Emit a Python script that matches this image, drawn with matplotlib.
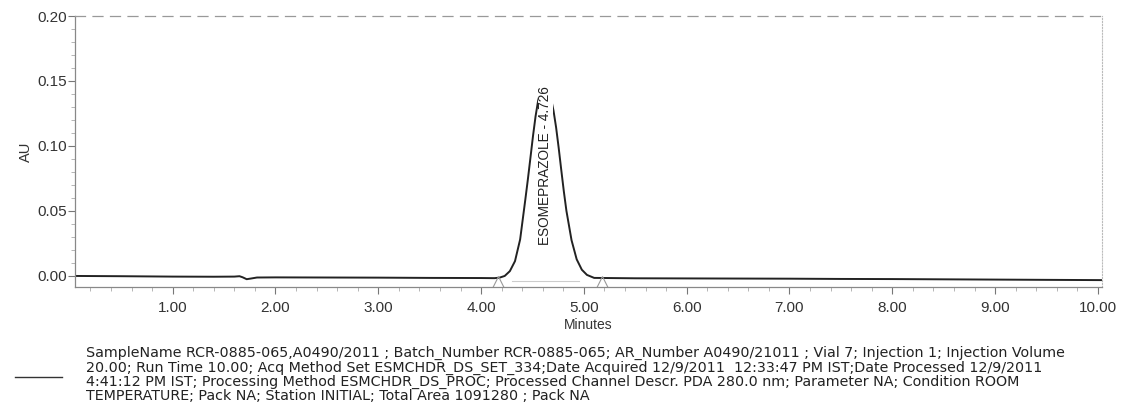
import matplotlib.pyplot as plt
import numpy as np
from matplotlib.ticker import MultipleLocator, FormatStrFormatter

plt.rcParams['font.family'] = ['Liberation Sans', 'DejaVu Sans']

# chromatogram (minutes, AU)
minutes = [0.05, 0.5, 1.0, 1.4, 1.60, 1.65, 1.68, 1.72, 1.76, 1.82, 2.0, 2.5, 3.0, 3.5, 4.0,
           4.13, 4.18, 4.23, 4.28, 4.33, 4.38, 4.43, 4.455, 4.48, 4.505, 4.53, 4.555, 4.58, 4.605,
           4.63, 4.655, 4.68, 4.705, 4.73, 4.755, 4.78, 4.805, 4.83, 4.88, 4.93, 4.98, 5.03,
           5.1, 5.5, 6.0, 6.5, 7.0, 7.5, 8.0, 8.5, 9.0, 9.5, 10.04]
au = [0.0000, -0.0002, -0.0005, -0.0006, -0.0005, -0.0002, -0.0010, -0.0025, -0.0020, -0.0012,
      -0.0011, -0.0012, -0.0013, -0.0015, -0.0016,
      -0.0017, -0.0013, 0.0000, 0.0037, 0.0114, 0.0281, 0.0585, 0.0742, 0.0908, 0.1076,
      0.1228, 0.1349, 0.1426, 0.1453, 0.1452, 0.1428, 0.1366, 0.1270, 0.1142, 0.0985,
      0.0816, 0.0651, 0.0502, 0.0275, 0.0128, 0.0048, 0.0008,
      -0.0015, -0.0018, -0.0019, -0.0020, -0.0021, -0.0023, -0.0024, -0.0026, -0.0028,
      -0.0030, -0.0032]

peak_label = "ESOMEPRAZOLE - 4.726"
peak_time = 4.625
integration_marks = [4.16, 5.18]

x_ticks = [1, 2, 3, 4, 5, 6, 7, 8, 9, 10]
y_ticks = [0.00, 0.05, 0.10, 0.15, 0.20]

info_lines = [
    "SampleName RCR-0885-065,A0490/2011 ; Batch_Number RCR-0885-065; AR_Number A0490/21011 ; Vial 7; Injection 1; Injection Volume",
    "20.00; Run Time 10.00; Acq Method Set ESMCHDR_DS_SET_334;Date Acquired 12/9/2011  12:33:47 PM IST;Date Processed 12/9/2011",
    "4:41:12 PM IST; Processing Method ESMCHDR_DS_PROC; Processed Channel Descr. PDA 280.0 nm; Parameter NA; Condition ROOM",
    "TEMPERATURE; Pack NA; Station INITIAL; Total Area 1091280 ; Pack NA",
]

fig = plt.figure(figsize=(11.25, 4.09), dpi=100)
ax = fig.add_axes([75 / 1125, 1 - 287 / 409, (1102 - 75) / 1125, (287 - 16) / 409])

ax.plot(minutes, au, color='#222222', lw=1.4)

# integration baseline and start/end markers
ax.plot([4.3, 4.95], [-0.004, -0.004], color='#cccccc', lw=0.8)
ax.plot(integration_marks, [-0.0055] * len(integration_marks), ls='none', marker='^',
        ms=10, mfc='none', mec='#999999', mew=0.8)

ax.text(peak_time, 0.024, peak_label, rotation=90, ha='center', va='bottom',
        fontsize=9.8, color='#222222',
        bbox=dict(facecolor='white', edgecolor='none', pad=0.3))

ax.set_xlim(0.05, 10.04)
ax.set_ylim(-0.0085, 0.20)
ax.set_xticks(x_ticks)
ax.set_yticks(y_ticks)
ax.xaxis.set_major_formatter(FormatStrFormatter('%.2f'))
ax.yaxis.set_major_formatter(FormatStrFormatter('%.2f'))
ax.xaxis.set_minor_locator(MultipleLocator(0.2))
ax.yaxis.set_minor_locator(MultipleLocator(0.01))
ax.tick_params(which='major', length=5, width=0.8, color='#777777', labelsize=11,
               labelcolor='#333333')
ax.tick_params(axis='x', which='major', pad=5)
ax.tick_params(axis='y', which='major', pad=1)
ax.tick_params(which='minor', length=3, width=0.6, color='#aaaaaa')

for side in ['left', 'bottom']:
    ax.spines[side].set_color('#888888')
    ax.spines[side].set_linewidth(0.9)
ax.spines['top'].set_color('#999999')
ax.spines['top'].set_linestyle((0, (8, 6)))
ax.spines['top'].set_linewidth(0.9)
ax.spines['right'].set_color('#bbbbbb')
ax.spines['right'].set_linestyle(':')
ax.spines['right'].set_linewidth(0.8)

ax.set_ylabel("AU", fontsize=10.5, color='#333333', labelpad=3)
ax.set_xlabel("Minutes", fontsize=10, color='#333333', labelpad=2)

# legend line and sample info block
fig.lines.append(plt.Line2D([15 / 1125, 62 / 1125], [1 - 377 / 409] * 2,
                            transform=fig.transFigure, color='#333333', lw=1))
for i, line in enumerate(info_lines):
    fig.text(86 / 1125, 1 - (353 + 14.5 * i) / 409, line, fontsize=10.3,
             family='DejaVu Sans', color='#222222', va='center', ha='left')

fig.savefig('out.png', dpi=100)
